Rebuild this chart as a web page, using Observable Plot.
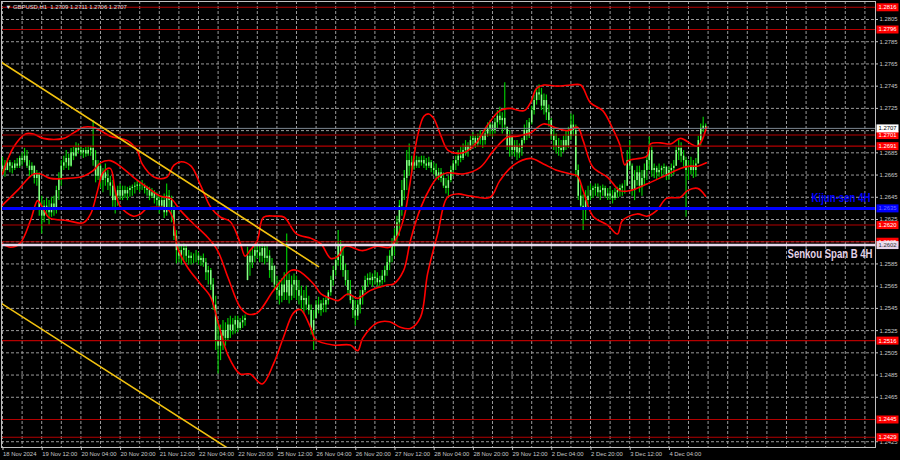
<!DOCTYPE html>
<html><head><meta charset="utf-8">
<script src="https://cdn.jsdelivr.net/npm/d3@7"></script>
<script src="https://cdn.jsdelivr.net/npm/@observablehq/plot@0.6"></script>
<style>
html,body{margin:0;padding:0;background:#000;}
#chart{width:900px;height:460px;overflow:hidden;}
svg{display:block;}
</style></head><body><div id="chart"></div>
<script>
// ---------- DATA ----------
const header = "\u25BC GBPUSD,H1  1.2709 1.2711 1.2706 1.2707";
const timeLabels = ["18 Nov 2024","19 Nov 12:00","20 Nov 04:00","20 Nov 20:00","21 Nov 12:00","22 Nov 04:00","22 Nov 20:00","25 Nov 12:00","26 Nov 04:00","26 Nov 20:00","27 Nov 12:00","28 Nov 04:00","28 Nov 20:00","29 Nov 12:00","2 Dec 04:00","2 Dec 20:00","3 Dec 12:00","4 Dec 04:00"];
const timeTickBars = [0,16,32,48,64,80,96,112,128,144,160,176,192,208,224,240,256,272];
const priceTicks = [1.2425,1.2445,1.2465,1.2485,1.2505,1.2525,1.2545,1.2565,1.2585,1.2605,1.2625,1.2645,1.2665,1.2685,1.2705,1.2725,1.2745,1.2765,1.2785,1.2805];

// hourly candles, price x 10000 (open = previous close)
const firstOpen = 12670;
const highs = [
12681,12678,12680,12678,12676,12678,12680,12682,12685,12689,
12687,12678,12676,12673,12669,12667,12646,12642,12644,12642,
12645,12646,12655,12667,12678,12682,12687,12684,12689,12690,
12694,12693,12691,12689,12690,12691,12691,12714,12687,12678,
12675,12671,12675,12669,12664,12660,12651,12655,12657,12655,
12655,12654,12655,12656,12658,12660,12658,12660,12657,12655,
12654,12653,12651,12649,12646,12646,12648,12657,12651,12646,
12637,12615,12603,12602,12603,12602,12597,12595,12594,12597,
12595,12592,12594,12590,12583,12581,12572,12556,12534,12530,
12534,12532,12536,12538,12536,12538,12538,12536,12538,12539,
12600,12597,12599,12601,12603,12601,12603,12601,12601,12597,
12590,12583,12574,12570,12572,12577,12612,12576,12574,12576,
12574,12570,12565,12561,12565,12556,12548,12543,12552,12555,
12552,12554,12555,12561,12574,12583,12592,12615,12606,12601,
12585,12579,12570,12556,12552,12552,12561,12565,12574,12576,
12577,12576,12579,12577,12574,12579,12583,12592,12597,12608,
12617,12628,12642,12660,12669,12687,12693,12682,12681,12682,
12681,12682,12682,12680,12681,12678,12676,12675,12671,12671,
12667,12662,12664,12673,12678,12682,12687,12690,12693,12696,
12694,12700,12703,12700,12702,12705,12703,12707,12712,12714,
12711,12716,12723,12726,12721,12748,12708,12705,12700,12696,
12696,12693,12698,12710,12714,12716,12727,12737,12743,12746,
12743,12738,12737,12728,12716,12707,12702,12698,12696,12700,
12705,12708,12720,12719,12710,12674,12656,12647,12651,12655,
12657,12655,12657,12657,12655,12656,12655,12653,12654,12651,
12653,12654,12656,12657,12660,12687,12696,12675,12669,12673,
12673,12669,12675,12682,12699,12691,12675,12673,12675,12673,
12675,12673,12672,12675,12678,12691,12696,12694,12687,12681,
12678,12681,12678,12680,12700,12711,12717,12711];
const lows = [
12667,12663,12669,12667,12666,12669,12671,12671,12673,12676,
12671,12662,12665,12657,12655,12628,12612,12622,12628,12620,
12627,12628,12630,12642,12655,12669,12671,12669,12672,12678,
12681,12684,12682,12680,12681,12682,12682,12673,12658,12660,
12653,12649,12655,12651,12646,12636,12630,12637,12642,12642,
12644,12642,12645,12646,12648,12651,12649,12651,12648,12646,
12642,12644,12639,12637,12630,12633,12626,12628,12633,12622,
12606,12585,12586,12584,12588,12586,12584,12584,12585,12586,
12584,12583,12582,12570,12566,12561,12543,12507,12486,12498,
12507,12511,12516,12518,12521,12522,12523,12525,12527,12529,
12570,12574,12581,12586,12590,12586,12586,12584,12586,12572,
12568,12561,12552,12548,12550,12552,12552,12549,12552,12554,
12552,12548,12543,12540,12543,12539,12521,12507,12536,12540,
12538,12541,12541,12548,12556,12565,12574,12583,12579,12573,
12565,12556,12549,12536,12529,12534,12540,12548,12559,12564,
12566,12564,12566,12564,12563,12566,12568,12574,12579,12586,
12592,12601,12610,12628,12642,12651,12664,12667,12669,12671,
12671,12673,12671,12669,12671,12667,12665,12662,12660,12658,
12653,12648,12645,12658,12664,12669,12673,12676,12678,12682,
12681,12687,12690,12689,12690,12692,12689,12692,12699,12700,
12699,12702,12707,12710,12702,12705,12687,12681,12682,12681,
12678,12680,12682,12693,12696,12698,12710,12719,12728,12732,
12723,12719,12714,12708,12696,12687,12684,12682,12681,12685,
12687,12689,12696,12700,12663,12642,12633,12615,12624,12638,
12642,12644,12646,12645,12642,12646,12644,12642,12642,12639,
12642,12644,12645,12646,12648,12655,12669,12646,12642,12655,
12649,12646,12655,12660,12669,12663,12662,12660,12663,12662,
12665,12660,12660,12663,12665,12673,12678,12676,12672,12627,
12660,12665,12662,12663,12675,12691,12703,12706];
const closes = [
12673,12669,12676,12673,12671,12675,12673,12680,12678,12682,
12673,12669,12673,12662,12665,12633,12628,12637,12633,12631,
12639,12633,12651,12662,12673,12676,12680,12673,12685,12682,
12689,12687,12685,12687,12684,12687,12689,12678,12664,12673,
12660,12667,12662,12658,12655,12642,12646,12651,12646,12651,
12648,12651,12653,12654,12655,12656,12655,12655,12653,12651,
12646,12649,12644,12642,12637,12642,12631,12646,12642,12633,
12610,12597,12592,12597,12599,12592,12590,12592,12592,12592,
12588,12590,12586,12577,12579,12566,12548,12516,12511,12520,
12525,12518,12530,12525,12530,12534,12527,12532,12534,12536,
12592,12586,12592,12597,12595,12592,12599,12590,12592,12579,
12583,12566,12561,12556,12566,12559,12570,12556,12566,12570,
12561,12556,12552,12554,12548,12543,12525,12534,12548,12543,
12549,12548,12552,12559,12570,12579,12588,12601,12592,12579,
12570,12561,12552,12543,12538,12548,12556,12561,12570,12572,
12570,12573,12572,12568,12570,12574,12579,12586,12592,12601,
12610,12622,12637,12651,12662,12678,12673,12676,12673,12678,
12676,12678,12675,12673,12676,12671,12669,12664,12667,12662,
12655,12653,12660,12669,12675,12678,12682,12680,12687,12691,
12687,12696,12698,12693,12698,12700,12696,12702,12707,12710,
12705,12712,12718,12714,12716,12710,12691,12700,12687,12691,
12685,12689,12696,12705,12700,12712,12723,12732,12739,12737,
12727,12732,12721,12714,12700,12696,12691,12689,12687,12696,
12691,12700,12710,12705,12669,12646,12637,12633,12642,12646,
12651,12653,12654,12649,12651,12653,12646,12648,12646,12644,
12649,12651,12653,12655,12655,12678,12673,12651,12660,12667,
12655,12662,12669,12678,12687,12669,12671,12667,12669,12671,
12672,12664,12669,12671,12673,12687,12689,12682,12678,12669,
12669,12673,12669,12675,12696,12707,12709,12707];

// Bollinger bands: bar index / price x 10000
const upperIdx = [0,4.5,9.4,12.7,16.7,24.9,29,33,37,40,44,51,55,57,62,67,70,73,77,81,85,89,93,97,99,101,104,106.5,111.4,115,120,126,130,134,137,140,147,153,158,161,164,166.5,169.4,172,174,176,179,182,188,193,198,203,207,213,215.5,218,221,226.5,232,236,240,245,249,252,254,255.5,260,263,264.5,268.6,272.7,276.7,283.7,287.3];
const upperVal = [12666,12690,12702,12702,12698,12698,12703,12708,12708,12705,12700,12696,12687,12675,12663,12663,12674,12677,12673,12655,12636,12627,12623,12604,12592,12597,12606,12627,12628,12627,12612,12608,12603,12590,12592,12601,12597,12601,12600,12609,12628,12660,12700,12718,12720,12716,12700,12687,12685,12693,12710,12723,12725,12723,12730,12743,12746,12745,12746,12746,12730,12723,12707,12692,12674,12678,12680,12682,12693,12694,12693,12698,12691,12708];
const middleIdx = [0,6,12.7,15.5,19.6,26.5,33,37,40,44,48,53.5,59,64.5,68.6,72.7,78,83.7,87.8,92,97,100,104,110.6,117.6,120.4,127,130,134,137,141,145,150,157,159.6,163.7,166.5,170.6,174.7,177.6,181.6,188,195,200.4,206,210,215.5,220.8,226.5,230.6,234.7,237,241,247,252,256,263,270,276.7,280.8,283.7,287.3];
const middleVal = [12638,12651,12666,12666,12662,12662,12664,12669,12676,12678,12673,12663,12654,12646,12644,12633,12621,12609,12597,12573,12546,12540,12541,12561,12579,12579,12567,12558,12554,12552,12558,12554,12561,12566,12567,12579,12606,12635,12654,12663,12667,12666,12672,12687,12699,12700,12703,12711,12707,12705,12708,12696,12672,12663,12651,12651,12657,12664,12671,12673,12673,12676];
const lowerIdx = [0,3.3,7.3,11.4,14.3,15.5,18.4,19.6,26.5,33,36,38.8,41,44,46,48,53.5,56.3,59,63,67,69.4,71.4,75.5,80.8,85,87.8,92,97,101,106,110.6,114.7,118.8,121.6,125.7,127.8,135,142,145,147,153,158,162.4,166.5,170.6,173.5,177.6,181.6,185.7,191,199,203,208.6,215.5,220.8,226.5,232,234.7,237,241,247,251,253,259,263,267,271,276.7,279.6,283.7,287];
const lowerVal = [12603,12600,12604,12624,12642,12639,12628,12626,12624,12622,12630,12651,12667,12671,12651,12637,12628,12630,12635,12636,12635,12627,12600,12582,12567,12555,12534,12503,12486,12486,12477,12495,12519,12541,12544,12528,12517,12512,12512,12507,12518,12532,12533,12528,12527,12537,12576,12612,12645,12648,12646,12645,12660,12674,12680,12675,12669,12666,12664,12651,12628,12620,12612,12624,12630,12628,12633,12644,12645,12651,12653,12646];

// yellow descending channel: bar index / price
const channelUpperIdx = [-0.8, 129];
const channelUpperVal = [1.2767, 1.25826];
const channelLowerIdx = [-0.8, 93];
const channelLowerVal = [1.2550, 1.24177];

// horizontal levels
const redLevels = [1.2816, 1.2796, 1.2701, 1.2691, 1.2620, 1.2605, 1.2516, 1.2445, 1.2429];
const kijunLevel = 1.2635;
const senkouLevel = 1.2602;
const lastPrice = 1.2707;
const kijunLabel = "Kijun-sen 4H";
const senkouLabel = "Senkou Span B 4H";

// ---------- BUILD ----------
const bars = highs.map((h, i) => {
  const o = i === 0 ? firstOpen : closes[i - 1];
  const open = Math.min(h, Math.max(lows[i], o));
  return {i, open: open / 1e4, high: h / 1e4, low: lows[i] / 1e4, close: closes[i] / 1e4};
});
const band = (idx, val) => idx.map((x, k) => ({x, y: val[k] / 1e4}));
const upper = band(upperIdx, upperVal), middle = band(middleIdx, middleVal), lower = band(lowerIdx, lowerVal);
const chanU = channelUpperIdx.map((x, k) => ({x, y: channelUpperVal[k]}));
const chanL = channelLowerIdx.map((x, k) => ({x, y: channelLowerVal[k]}));

const boxes = [
  ...redLevels.map(v => ({v, bg: "#ff0000", fg: "#ffffff"})),
  {v: kijunLevel, bg: "#0000ff", fg: "#6b6bff"},
  {v: senkouLevel, bg: "#e6d6ea", fg: "#303030"},
  {v: lastPrice, bg: "#ffffff", fg: "#000000"}
];
const boxLevels = boxes.map(b => b.v);
// tick labels that are completely hidden behind a price box in the picture are not drawn
const axisTicks = priceTicks.filter(t => !boxLevels.some(v => Math.abs(v - t) < 0.00025));
const boxSymbol = {draw(ctx) { ctx.moveTo(-11, -4); ctx.lineTo(11, -4); ctx.lineTo(11, 4); ctx.lineTo(-11, 4); ctx.closePath(); }};

const FONT = "'Liberation Sans',Arial,sans-serif";
const SMALL = 5.9;
const gridStyle = {stroke: "#9a9a9a", strokeDasharray: "3,2", strokeWidth: 1};

const chart = Plot.plot({
  width: 900, height: 460,
  marginLeft: 1, marginRight: 25, marginTop: 1, marginBottom: 13,
  style: {background: "#000", color: "#c8c8c8", fontFamily: FONT},
  x: {type: "linear", domain: [-0.408, 356.33]},
  y: {type: "linear", domain: [1.24198, 1.28212]},
  marks: [
    Plot.ruleX(d3.range(0, 357, 8), gridStyle),
    Plot.ruleY(priceTicks, gridStyle),
    // candles
    Plot.ruleX(bars, {x: "i", y1: "low", y2: "high", stroke: "#00c400", strokeWidth: 1.2}),
    Plot.ruleX(bars, {x: "i", y1: "open", y2: "close", stroke: "#86ff86", strokeWidth: 1.5}),
    // Bollinger bands
    Plot.line(upper, {x: "x", y: "y", stroke: "#ff0000", strokeWidth: 1.6, curve: "catmull-rom"}),
    Plot.line(middle, {x: "x", y: "y", stroke: "#ff0000", strokeWidth: 1.6, curve: "catmull-rom"}),
    Plot.line(lower, {x: "x", y: "y", stroke: "#ff0000", strokeWidth: 1.6, curve: "catmull-rom"}),
    // levels
    Plot.ruleY([lastPrice], {stroke: "#7d8791", strokeWidth: 1}),
    Plot.ruleY(redLevels, {stroke: "#b40000", strokeWidth: 1.1}),
    Plot.ruleY([kijunLevel], {stroke: "#0000ff", strokeWidth: 3}),
    Plot.ruleY([senkouLevel], {stroke: "#e6d6ea", strokeWidth: 2.5}),
    // channel
    Plot.line(chanU, {x: "x", y: "y", stroke: "#f2c20f", strokeWidth: 1.6, clip: true}),
    Plot.line(chanL, {x: "x", y: "y", stroke: "#f2c20f", strokeWidth: 1.6, clip: true}),
    // labels
    Plot.text([kijunLabel], {y: [kijunLevel], text: d => d, frameAnchor: "right", textAnchor: "end", dx: -5, dy: -10, fill: "#0000ff", fontWeight: "bold", fontSize: 12, fontFamily: FONT, className: "lbl-kijun"}),
    Plot.text([senkouLabel], {y: [senkouLevel], text: d => d, frameAnchor: "right", textAnchor: "end", dx: -3, dy: 9, fill: "#e2d2e6", fontWeight: "bold", fontSize: 12, fontFamily: FONT, className: "lbl-senkou"}),
    Plot.text([header], {text: d => d, frameAnchor: "top-left", dx: 4, dy: 3, textAnchor: "start", lineAnchor: "top", fill: "#e0e0e0", fontSize: SMALL, fontFamily: FONT}),
    Plot.frame({stroke: "#c0c0c0"}),
    // axes
    Plot.axisY({anchor: "right", ticks: axisTicks, tickFormat: d => d.toFixed(4), tickSize: 2, tickPadding: 2, fontSize: SMALL, fill: "#c8c8c8", stroke: "#c8c8c8", fontFamily: FONT}),
    Plot.axisX({anchor: "bottom", ticks: timeTickBars, tickFormat: d => timeLabels[timeTickBars.indexOf(d)], tickSize: 3, tickPadding: 1, textAnchor: "start", dx: 0.5, fontSize: SMALL, fill: "#c8c8c8", stroke: "#c8c8c8", fontFamily: FONT}),
    // price boxes
    Plot.dot(boxes, {y: "v", frameAnchor: "right", dx: 12, symbol: boxSymbol, r: 3, fill: "bg", stroke: null}),
    Plot.text(boxes, {y: "v", text: d => d.v.toFixed(4), frameAnchor: "right", dx: 12, textAnchor: "middle", fill: "fg", fontSize: SMALL, fontFamily: FONT})
  ]
});
// condensed look of the two indicator captions
const condense = (cls, len) => chart.querySelectorAll(`.${cls} text`).forEach(t => {
  t.setAttribute("textLength", len); t.setAttribute("lengthAdjust", "spacingAndGlyphs");
});
condense("lbl-kijun", 59);
condense("lbl-senkou", 85);
document.getElementById("chart").appendChild(chart);
</script>
</body></html>
